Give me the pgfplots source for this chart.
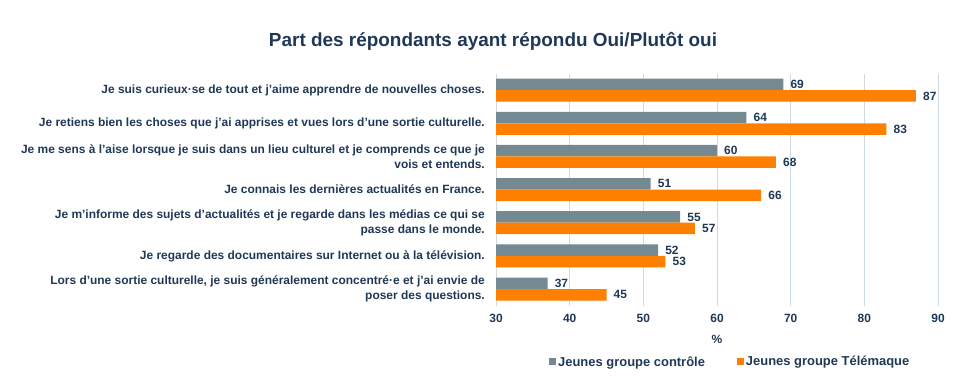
\documentclass[border=0pt]{standalone}
\usepackage{pgfplots}
\pgfplotsset{compat=1.18}
\usepackage{fontspec}
\setmainfont{Liberation Sans}
\definecolor{cgray}{RGB}{117,137,146}
\definecolor{corange}{RGB}{255,128,0}
\definecolor{ctext}{RGB}{31,56,86}
\definecolor{cgrid}{RGB}{205,218,228}
\begin{document}
\begin{tikzpicture}[x=1bp,y=1bp]
\path[use as bounding box] (0,0) rectangle (960,383);
\node[font=\bfseries\fontsize{19}{22}\selectfont, text=ctext] at (493,342) {Part des répondants ayant répondu Oui/Plutôt oui};
\begin{axis}[
 at={(496bp,77.4bp)}, anchor=south west,
 scale only axis, width=442bp, height=232bp,
 xbar, bar width=11.5bp,
 xmin=30, xmax=90, ymin=-0.5, ymax=6.5, y dir=reverse,
 xtick={30,40,...,90}, ytick={0,...,6},
 yticklabels={
  {Je suis curieux·se de tout et j’aime apprendre de nouvelles choses.},
  {Je retiens bien les choses que j’ai apprises et vues lors d’une sortie culturelle.},
  {Je me sens à l’aise lorsque je suis dans un lieu culturel et je comprends ce que je\\vois et entends.},
  {Je connais les dernières actualités en France.},
  {Je m’informe des sujets d’actualités et je regarde dans les médias ce qui se\\passe dans le monde.},
  {Je regarde des documentaires sur Internet ou à la télévision.},
  {Lors d’une sortie culturelle, je suis généralement concentré·e et j’ai envie de\\poser des questions.}},
 /pgf/number format/assume math mode=true,
 xmajorgrids, grid style={cgrid, line width=0.8bp},
 axis line style={draw=none}, major tick length=0pt,
 yticklabel style={align=right, font=\bfseries\fontsize{12}{15}\selectfont, text=ctext, inner sep=0pt, xshift=-11bp},
 xticklabel style={font=\bfseries\fontsize{12}{14}\selectfont, text=ctext, yshift=-5bp},
 xlabel={\%}, xlabel style={font=\bfseries\fontsize{12}{14}\selectfont, text=ctext, yshift=-6bp},
 nodes near coords, nodes near coords style={anchor=west, font=\bfseries\fontsize{12}{14}\selectfont, text=ctext, inner sep=0pt, xshift=7bp},
 legend style={at={(0.53,-0.243)}, anchor=center, draw=none, fill=none, legend columns=2,
   font=\bfseries\fontsize{13}{15}\selectfont, text=ctext,
   /tikz/every even column/.append style={column sep=30bp}},
 legend image code/.code={\fill[#1,draw=none] (0bp,-3.5bp) rectangle (7bp,3.5bp);},
]
\addplot[fill=cgray, draw=none, bar shift=5.75bp] coordinates {(69,0) (64,1) (60,2) (51,3) (55,4) (52,5) (37,6)};
\addplot[fill=corange, draw=none, bar shift=-5.75bp] coordinates {(87,0) (83,1) (68,2) (66,3) (57,4) (53,5) (45,6)};
\legend{Jeunes groupe contrôle, Jeunes groupe Télémaque}
\end{axis}
\end{tikzpicture}
\end{document}
